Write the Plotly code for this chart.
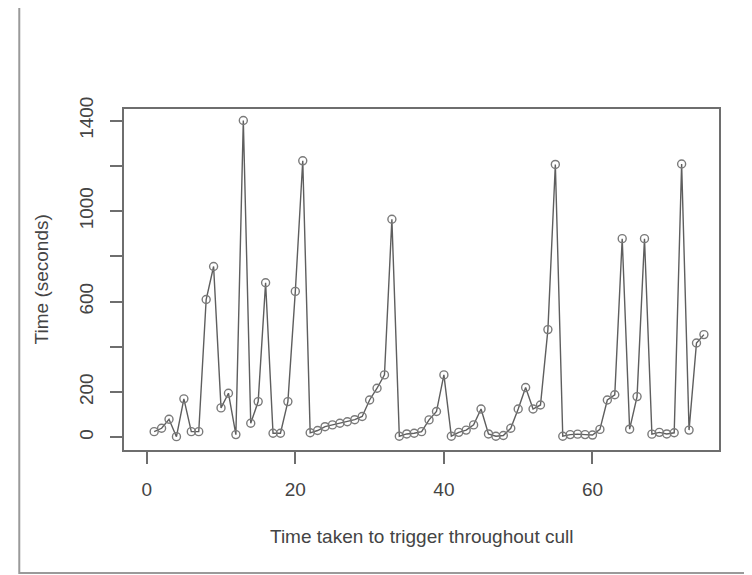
import plotly.graph_objects as go

# x positions (observation index) and times in seconds
trial = list(range(1, 76))
time_sec = [25, 40, 80, 3, 170, 25, 25, 609, 755, 130,
            195, 12, 1400, 62, 158, 683, 18, 18, 158, 645,
            1222, 20, 30, 47, 55, 62, 69, 78, 92, 165,
            217, 276, 964, 5, 15, 18, 25, 77, 114, 276,
            5, 22, 32, 55, 125, 15, 5, 8, 40, 125,
            220, 125, 143, 476, 1206, 5, 12, 14, 12, 10,
            35, 165, 188, 878, 36, 180, 878, 14, 22, 15,
            20, 1208, 32, 417, 454]

x_ticks = [0, 20, 40, 60]
y_ticks = [0, 200, 400, 600, 800, 1000, 1200, 1400]
y_tick_text = ["0", "200", "", "600", "", "1000", "", "1400"]
x_title = "Time taken to trigger throughout cull"
y_title = "Time (seconds)"

FONT = "Liberation Sans, Arial, sans-serif"
AXC = "#6e6e6e"
TXT = "#444"
FS = 19

fig = go.Figure()
fig.add_trace(go.Scatter(
    x=trial, y=time_sec, mode="lines+markers",
    line=dict(color="#5e5e5e", width=1.4),
    marker=dict(symbol="circle-open", size=8, color="#7a7a7a", line=dict(width=1.4)),
    showlegend=False,
))

fig.update_layout(
    width=752, height=575,
    margin=dict(l=116, r=41, t=101, b=133),
    paper_bgcolor="white", plot_bgcolor="white",
    font=dict(family=FONT, size=FS, color=TXT),
    xaxis=dict(
        range=[-3.06, 77.03], tickvals=x_ticks, ticktext=[str(v) for v in x_ticks],
        showgrid=False, zeroline=False, showline=True, mirror=True,
        linecolor=AXC, linewidth=2, ticks="outside", ticklen=12, tickwidth=1.5,
        tickcolor=AXC, ticklabelstandoff=9,
    ),
    yaxis=dict(
        range=[-56, 1451], tickvals=y_ticks, ticktext=y_tick_text,
        tickangle=-90,
        showgrid=False, zeroline=False, showline=True, mirror=True,
        linecolor=AXC, linewidth=2, ticks="outside", ticklen=12, tickwidth=1.5,
        tickcolor=AXC, ticklabelstandoff=9,
    ),
    annotations=[
        dict(text=x_title, xref="paper", yref="paper", x=0.5, y=-0.255,
             xanchor="center", yanchor="middle", showarrow=False,
             font=dict(size=FS, color=TXT)),
        dict(text=y_title, xref="paper", yref="paper", x=-0.138, y=0.5,
             xanchor="center", yanchor="middle", showarrow=False, textangle=-90,
             font=dict(size=FS, color=TXT)),
    ],
    shapes=[dict(type="rect", xref="paper", yref="paper",
                 x0=-0.176, x1=1.08, y0=-0.361, y1=1.309,
                 line=dict(color="#9a9a9a", width=2))],
)

fig.write_html("out.html")
